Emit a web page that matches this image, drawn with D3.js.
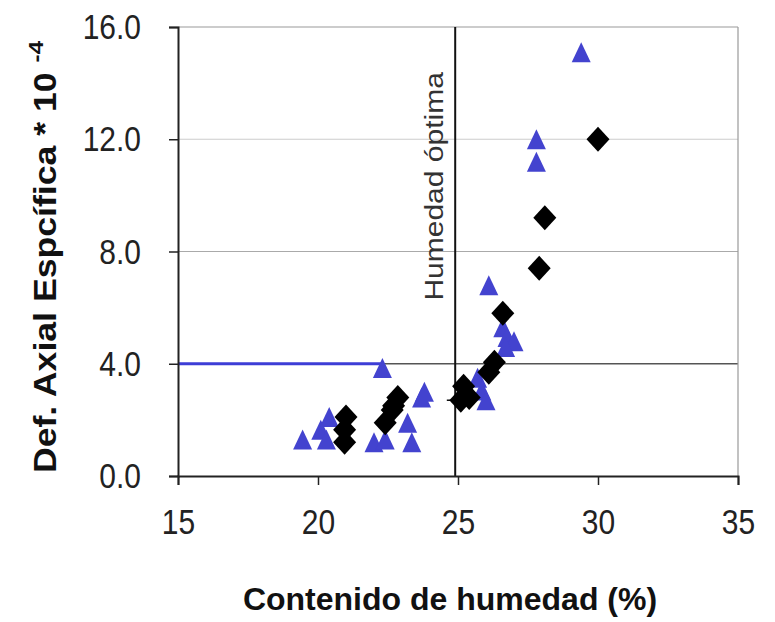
<!DOCTYPE html>
<html>
<head>
<meta charset="utf-8">
<script src="https://cdn.jsdelivr.net/npm/d3@7"></script>
<style>
  body { margin: 0; background: #fff; }
  text { font-family: Arial, "Liberation Sans", sans-serif; }
</style>
</head>
<body>
<div id="chart"></div>
<script>
// Datos
var xTicks = [15, 20, 25, 30, 35];
var yTicks = [0, 4, 8, 12, 16];
var humedadOptima = 24.9;
var limite = { x: 22.3, y: 4.0 };

// triangulos azules
var azulX = [29.4, 27.8, 27.8, 26.1, 22.3, 19.45, 20.1, 20.4, 20.3, 22.0, 22.4, 23.2, 23.35, 23.7, 23.8, 26.6, 26.75, 27.0, 26.7, 25.7, 25.85, 26.0];
var azulY = [15.1, 12.0, 11.2, 6.8, 3.85, 1.3, 1.65, 2.1, 1.3, 1.2, 1.3, 1.9, 1.2, 2.8, 3.0, 5.3, 4.95, 4.8, 4.6, 3.5, 3.05, 2.7];

// rombos negros
var negroX = [30.0, 28.1, 27.9, 26.6, 26.3, 26.1, 25.2, 25.1, 25.4, 21.0, 20.95, 20.95, 22.85, 22.65, 22.4, 22.7];
var negroY = [12.0, 9.2, 7.4, 5.8, 4.05, 3.7, 3.2, 2.7, 2.8, 2.1, 1.65, 1.2, 2.8, 2.35, 1.9, 2.5];

///////////////////////////////////////////////////////////////////////////
// SVG
///////////////////////////////////////////////////////////////////////////
var W = 775, H = 622;
var margin = { top: 27, right: 37, bottom: 146, left: 178 };
var width = W - margin.left - margin.right;
var height = H - margin.top - margin.bottom;

var svg = d3.select("#chart").append("svg")
  .attr("width", W).attr("height", H);
var g = svg.append("g")
  .attr("transform", "translate(" + margin.left + "," + margin.top + ")");

var x = d3.scaleLinear().domain([15, 35]).range([0, width]);
var y = d3.scaleLinear().domain([0, 16]).range([height, 0]);

// lineas de grilla
var gridColor = { 4: "#555", 8: "#aaa", 12: "#ccc", 16: "#999" };
yTicks.filter(function (d) { return d > 0; }).forEach(function (t) {
  g.append("line")
    .attr("x1", 0).attr("x2", width)
    .attr("y1", y(t)).attr("y2", y(t))
    .attr("stroke", gridColor[t]).attr("stroke-width", t === 4 ? 1.5 : 1.2);
});
// borde derecho
g.append("line")
  .attr("x1", width).attr("x2", width).attr("y1", 0).attr("y2", height)
  .attr("stroke", "#999").attr("stroke-width", 1.2);

// linea azul hasta el punto limite
g.append("line")
  .attr("x1", 0).attr("x2", x(limite.x))
  .attr("y1", y(limite.y)).attr("y2", y(limite.y))
  .attr("stroke", "#3d3dd6").attr("stroke-width", 3);

// humedad optima
g.append("line")
  .attr("x1", x(humedadOptima)).attr("x2", x(humedadOptima))
  .attr("y1", 0).attr("y2", height)
  .attr("stroke", "#111").attr("stroke-width", 2);
g.append("line")
  .attr("x1", x(24.6)).attr("x2", x(25.1))
  .attr("y1", y(2.7)).attr("y2", y(2.7))
  .attr("stroke", "#111").attr("stroke-width", 1.5);

g.append("text")
  .attr("transform", "translate(" + (x(humedadOptima) - 12) + "," + y(6.25) + ") rotate(-90) scale(1.2,1)")
  .attr("font-size", "25px")
  .attr("fill", "#333")
  .text("Humedad óptima");

// ejes
var xAxis = g.append("g")
  .attr("transform", "translate(0," + height + ")")
  .call(d3.axisBottom(x).tickValues(xTicks).tickSize(9).tickPadding(25));
var yAxis = g.append("g")
  .call(d3.axisLeft(y).tickValues(yTicks).tickSize(9).tickPadding(28).tickFormat(d3.format(".1f")));

[xAxis, yAxis].forEach(function (a) {
  a.select(".domain").attr("stroke", "#222").attr("stroke-width", 2);
  a.selectAll(".tick line").attr("stroke", "#222").attr("stroke-width", 1.5);
  a.selectAll(".tick text")
    .attr("font-family", "Arial, 'Liberation Sans', sans-serif")
    .attr("font-size", "30px").attr("fill", "#222");
});
// texto de ticks algo alargado en vertical, como en el original
xAxis.selectAll(".tick text").attr("transform", "scale(1,1.15)").attr("dy", "0.55em");
yAxis.selectAll(".tick text")
  .attr("dy", null)
  .attr("dominant-baseline", "central")
  .attr("transform", "scale(1,1.15)")
  .attr("y", 0);

// marcadores
function triangulo(w, h) {
  return "M0," + (-h / 2) + "L" + (w / 2) + "," + (h / 2) + "L" + (-w / 2) + "," + (h / 2) + "Z";
}
function rombo(w, h) {
  return "M0," + (-h / 2) + "L" + (w / 2) + ",0L0," + (h / 2) + "L" + (-w / 2) + ",0Z";
}
g.selectAll(".azul")
  .data(azulX)
  .join("path")
  .attr("class", "azul")
  .attr("d", triangulo(19, 20))
  .attr("transform", function (d, i) { return "translate(" + x(d) + "," + y(azulY[i]) + ")"; })
  .attr("fill", "#4343cf");

g.selectAll(".negro")
  .data(negroX)
  .join("path")
  .attr("class", "negro")
  .attr("d", rombo(23, 25))
  .attr("transform", function (d, i) { return "translate(" + x(d) + "," + y(negroY[i]) + ")"; })
  .attr("fill", "#000");

// titulos de ejes
svg.append("text")
  .attr("x", 450).attr("y", 610)
  .attr("text-anchor", "middle")
  .attr("font-size", "32px").attr("font-weight", "bold").attr("fill", "#111")
  .text("Contenido de humedad (%)");

var yt = svg.append("text")
  .attr("transform", "translate(56,257) rotate(-90) scale(1.15,1)")
  .attr("text-anchor", "middle")
  .attr("font-size", "31px").attr("font-weight", "bold").attr("fill", "#111");
yt.append("tspan").text("Def. Axial Espcífica * 10 ");
yt.append("tspan").attr("dy", "-0.6em").attr("font-size", "21px").text("-4");
</script>
</body>
</html>
